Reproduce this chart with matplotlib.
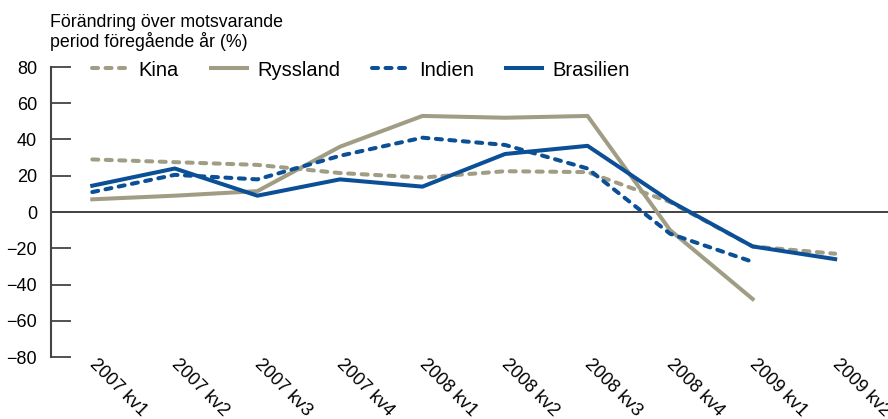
import matplotlib.pyplot as plt
from matplotlib.transforms import ScaledTranslation

plt.rcParams['font.family'] = ['Liberation Sans', 'DejaVu Sans']

# Data
kvartal = ['2007 kv1', '2007 kv2', '2007 kv3', '2007 kv4',
           '2008 kv1', '2008 kv2', '2008 kv3', '2008 kv4',
           '2009 kv1', '2009 kv2']
kina = [29, 27.5, 26, 21.5, 19, 22.5, 22, 5.5, -19, -23]
ryssland = [7, 9, 11.5, 36, 53, 52, 53, -10, -48]
indien = [11, 20.5, 18, 31, 41, 37, 24, -12, -27.5]
brasilien = [14.5, 24, 9, 18, 14, 32, 36.5, 6, -19, -26]

tan = '#a19d84'
blue = '#0b4f97'
dash = (0, (1.5, 1.85))

fig = plt.figure(figsize=(8.88, 4.19), dpi=100)
ax = fig.add_axes([51 / 888, 1 - 357 / 419, 1 - 51 / 888, 290 / 419])

x = range(len(kvartal))
ax.plot(x, kina, color=tan, lw=2.9, ls=dash, dash_capstyle='round', label='Kina')
ax.plot(x[:len(ryssland)], ryssland, color=tan, lw=2.9, label='Ryssland')
ax.plot(x[:len(indien)], indien, color=blue, lw=2.9, ls=dash, dash_capstyle='round', label='Indien')
ax.plot(x, brasilien, color=blue, lw=2.9, label='Brasilien')

ax.axhline(0, color='#333333', lw=1.3, zorder=0)

ax.set_xlim(-0.5, 9.64)
ax.set_ylim(-80, 80)
ax.set_yticks(range(-80, 81, 20))
ax.set_xticks(list(x))
ax.set_xticklabels(kvartal, rotation=-45, ha='left', va='top', rotation_mode='anchor')

for s in ['top', 'right', 'bottom']:
    ax.spines[s].set_visible(False)
ax.spines['left'].set_color('#444444')
ax.spines['left'].set_linewidth(1.5)

ax.tick_params(axis='y', direction='in', length=14.5, width=1.3, color='#444444',
               labelsize=13, pad=10)
ax.tick_params(axis='x', length=0, labelsize=13, pad=0)

# nudge rotated labels so they start just right of each point
shift = ScaledTranslation(4 / 72, 1 / 72, fig.dpi_scale_trans)
for lbl in ax.get_xticklabels():
    lbl.set_transform(lbl.get_transform() + shift)

fig.text(50 / 888, 1 - 14 / 419, 'Förändring över motsvarande\nperiod föregående år (%)',
         ha='left', va='top', fontsize=12.8, linespacing=1.05)

fig.legend(loc='center left', bbox_to_anchor=(92 / 888, 1 - 70 / 419), ncol=4,
           frameon=False, fontsize=14.5, handlelength=1.8, columnspacing=1.6,
           handletextpad=0.5, borderaxespad=0, borderpad=0)

fig.savefig('out.png', dpi=100)
